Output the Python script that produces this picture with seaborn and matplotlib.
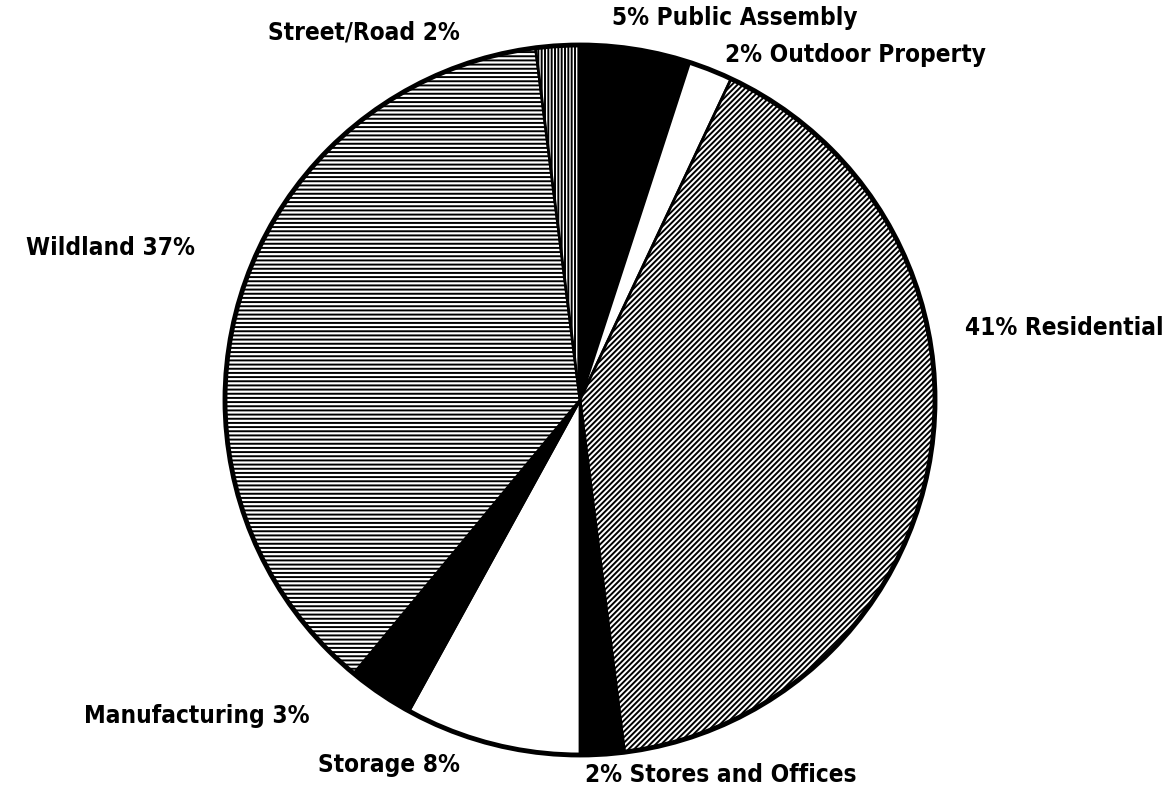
"""
Pie chart of fire share by property use, drawn in black and white with hatching.
"""
import matplotlib
matplotlib.use("Agg")
import matplotlib.pyplot as plt
from matplotlib.patches import Circle
import seaborn as sns

# data, clockwise from 12 o'clock
categories = ["Public Assembly", "Outdoor Property", "Residential",
              "Stores and Offices", "Storage", "Manufacturing",
              "Wildland", "Street/Road"]
shares = [5, 2, 41, 2, 8, 3, 37, 2]
# label text puts the percent first on the right-hand side of the pie
percent_first = [True, True, True, True, False, False, False, False]

# styles per slice
fills = ["black", "white", "white", "black", "white", "black", "white", "white"]
hatches = [None, None, "//////", None, None, None, "----", "|||||"]

# label anchors in pixels (x, y from top) and alignment
label_pos = {
    "Public Assembly": (612, 18, "left"),
    "Outdoor Property": (725, 55, "left"),
    "Residential": (965, 328, "left"),
    "Stores and Offices": (585, 775, "left"),
    "Storage": (460, 765, "right"),
    "Manufacturing": (310, 716, "right"),
    "Wildland": (195, 248, "right"),
    "Street/Road": (460, 33, "right"),
}

W, H = 1168, 800
CX, CY, R = 580, 400, 355

sns.set_theme(style="white")
plt.rcParams['font.family'] = ['DejaVu Sans']
plt.rcParams['hatch.linewidth'] = 1.4
plt.rcParams['hatch.color'] = 'black'

fig = plt.figure(figsize=(W / 100, H / 100), dpi=100)
ax = fig.add_axes([0, 0, 1, 1])

wedges, _ = ax.pie(shares, startangle=90, counterclock=False,
                   colors=fills, center=(CX, H - CY), radius=R,
                   wedgeprops=dict(edgecolor="black", linewidth=2))
for w, h in zip(wedges, hatches):
    if h:
        w.set_hatch(h)

# heavier outer rim
ax.add_patch(Circle((CX, H - CY), R, fill=False, edgecolor="black", lw=3.5))

for cat, val, pf in zip(categories, shares, percent_first):
    x, y, ha = label_pos[cat]
    txt = f"{val}% {cat}" if pf else f"{cat} {val}%"
    ax.text(x, H - y, txt, ha=ha, va="center", fontsize=17.5,
            fontweight="bold", fontstretch="condensed", color="black")

ax.set_xlim(0, W)
ax.set_ylim(0, H)
ax.set_aspect("equal")
ax.axis("off")

fig.savefig("out.png", dpi=100, facecolor="white")
